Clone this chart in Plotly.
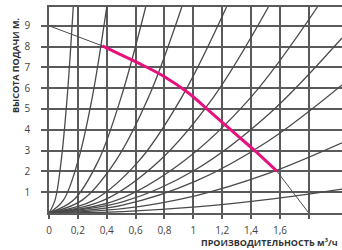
import plotly.graph_objects as go

# Axis ticks
q_ticks = [0, 0.2, 0.4, 0.6, 0.8, 1.0, 1.2, 1.4, 1.6, 1.8]
q_labels = ["0", "0,2", "0,4", "0,6", "0,8", "1", "1,2", "1,4", "1,6", ""]
h_ticks = [1, 2, 3, 4, 5, 6, 7, 8, 9]

# System (pipeline) curves: points along each curve
sys_q = [
    [0, 0.042, 0.084, 0.126, 0.168],
    [0, 0.10, 0.20, 0.30, 0.40],
    [0, 0.17, 0.34, 0.50, 0.67],
    [0, 0.23, 0.46, 0.69, 0.92],
    [0, 0.31, 0.62, 0.92, 1.23],
    [0, 0.38, 0.76, 1.14, 1.52],
    [0, 0.47, 0.93, 1.40, 1.86],
    [0, 0.51, 1.02, 1.52, 2.03],
    [0, 0.51, 1.02, 1.52, 2.03],
    [0, 0.51, 1.02, 1.52, 2.03],
    [0, 0.51, 1.02, 1.52, 2.03],
]
sys_h = [
    [0, 0.62, 2.48, 5.57, 9.9],
    [0, 0.62, 2.48, 5.57, 9.9],
    [0, 0.62, 2.48, 5.57, 9.9],
    [0, 0.62, 2.48, 5.57, 9.9],
    [0, 0.62, 2.48, 5.57, 9.9],
    [0, 0.62, 2.48, 5.57, 9.9],
    [0, 0.62, 2.48, 5.57, 9.9],
    [0, 0.53, 2.10, 4.73, 8.41],
    [0, 0.38, 1.54, 3.46, 6.15],
    [0, 0.21, 0.84, 1.90, 3.37],
    [0, 0.07, 0.29, 0.65, 1.15],
]

# Pump characteristic
pump_q = [0, 0.37, 0.5, 0.65, 0.8, 0.96, 1.1, 1.21, 1.3, 1.42, 1.58, 1.8]
pump_h = [9, 8.03, 7.6, 7.1, 6.55, 5.8, 4.97, 4.3, 3.75, 3.03, 2.0, 0]
# Working range (highlighted)
work_q = pump_q[1:11]
work_h = pump_h[1:11]

GRID = "#5a5a5a"
fig = go.Figure()

for q, h in zip(sys_q, sys_h):
    fig.add_trace(go.Scatter(x=q, y=h, mode="lines",
                             line=dict(color="#4a4a4a", width=1.3, shape="spline"),
                             hoverinfo="skip", showlegend=False))

fig.add_trace(go.Scatter(x=pump_q, y=pump_h, mode="lines",
                         line=dict(color="#4a4a4a", width=1, shape="linear"),
                         hoverinfo="skip", showlegend=False))
fig.add_trace(go.Scatter(x=work_q, y=work_h, mode="lines",
                         line=dict(color="#E5127D", width=3, shape="spline"),
                         hoverinfo="skip", showlegend=False))

fig.update_layout(
    width=342, height=250,
    margin=dict(l=49, r=0, t=7, b=37),
    paper_bgcolor="white", plot_bgcolor="white",
    font=dict(family="Open Sans", size=10, color="#444"),
    xaxis=dict(range=[0, 2.03], tickvals=q_ticks, ticktext=q_labels,
               showgrid=True, gridcolor=GRID, gridwidth=1.8,
               showline=True, linecolor=GRID, linewidth=1.8, mirror=True,
               ticks="outside", ticklen=4, tickcolor=GRID, tickwidth=1.5,
               ticklabelstandoff=3, zeroline=False, fixedrange=True, automargin=False),
    yaxis=dict(range=[0, 9.9], tickvals=h_ticks,
               showgrid=True, gridcolor=GRID, gridwidth=1.8,
               showline=True, linecolor=GRID, linewidth=1.8,
               ticks="outside", ticklen=6, tickcolor=GRID, tickwidth=1.5,
               ticklabelstandoff=9, zeroline=False, fixedrange=True, automargin=False),
    annotations=[
        dict(text="ВЫСОТА ПОДАЧИ М.", textangle=-90, xref="paper", yref="paper",
             x=0, xshift=-34, y=0.961, xanchor="center", yanchor="top",
             showarrow=False, font=dict(family="Open Sans", size=9, color="#333", weight="bold")),
        dict(text="ПРОИЗВОДИТЕЛЬНОСТЬ м³/ч", xref="paper", yref="paper",
             x=1, y=-0.145, xanchor="right", yanchor="middle", xshift=-2,
             showarrow=False, font=dict(family="Open Sans", size=9, color="#333", weight="bold")),
    ],
)

fig.write_html("out.html", config={"displayModeBar": False},
               post_script="document.body.style.margin='0';")
